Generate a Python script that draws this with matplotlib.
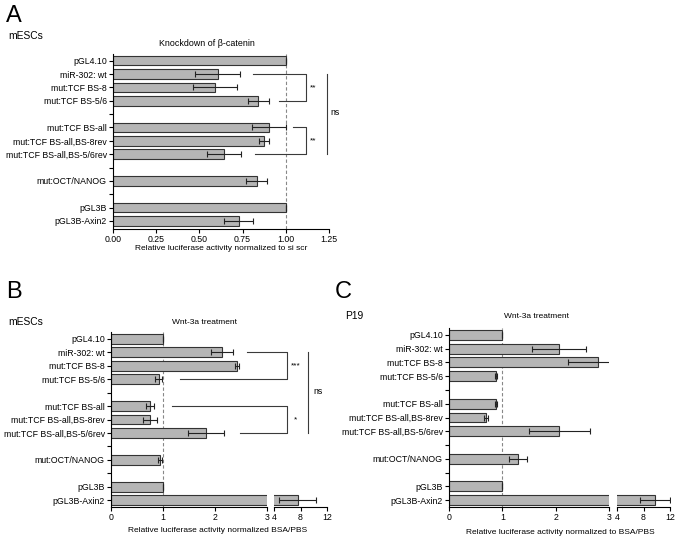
import numpy as np
import matplotlib
matplotlib.use("Agg")
import matplotlib.pyplot as plt

plt.rcParams['font.family'] = ['Liberation Sans', 'DejaVu Sans']

# =========================
# Datos
# =========================

labels = ["pGL4.10", "miR-302: wt", "mut:TCF BS-8", "mut:TCF BS-5/6",
          "mut:TCF BS-all", "mut:TCF BS-all,BS-8rev", "mut:TCF BS-all,BS-5/6rev",
          "mut:OCT/NANOG", "pGL3B", "pGL3B-Axin2"]
rows = [0, 1, 2, 3, 5, 6, 7, 9, 11, 12]

# A: knockdown of beta-catenin (mESCs)
a_vals = [1.0, 0.605, 0.592, 0.84, 0.903, 0.874, 0.643, 0.831, 1.0, 0.727]
a_err = [0, 0.128, 0.127, 0.06, 0.096, 0.027, 0.098, 0.063, 0, 0.084]

# B: Wnt-3a treatment (mESCs)
b_vals = [1.0, 2.13, 2.42, 0.915, 0.75, 0.75, 1.835, 0.95, 1.0, 7.6]
b_err = [0, 0.21, 0.045, 0.06, 0.08, 0.135, 0.345, 0.04, 0, 2.8]

# C: Wnt-3a treatment (P19)
c_vals = [1.0, 2.06, 2.80, 0.874, 0.886, 0.69, 2.07, 1.30, 1.0, 9.7]
c_err = [0, 0.50, 0.57, 0.02, 0.02, 0.04, 0.57, 0.17, 0, 2.3]

# =========================
# Figura
# =========================

W, H = 683, 542
fig = plt.figure(figsize=(W / 100, H / 100), dpi=100)

bar_fc = "#b5b5b5"
bar_ec = "#333333"
line_c = "#3a3a3a"
fs = 6.3


def px_axes(l, t, r, b):
    return fig.add_axes([l / W, 1 - b / H, (r - l) / W, (b - t) / H])


def px_text(x, y, s, **kw):
    fig.text(x / W, 1 - y / H, s, **kw)


def style_axes(ax, ymax):
    ax.set_ylim(ymax, -0.5)
    for side in ["top", "right"]:
        ax.spines[side].set_visible(False)
    for side in ["left", "bottom"]:
        ax.spines[side].set_linewidth(0.8)
    ax.set_yticks(range(13))
    ylab = [""] * 13
    for r, lab in zip(rows, labels):
        ylab[r] = lab
    ax.set_yticklabels(ylab)
    ax.tick_params(axis="both", labelsize=fs, length=3, width=0.8, pad=1.5)


def draw_bars(ax, vals, err):
    ax.barh(rows, vals, height=0.72, color=bar_fc, edgecolor=bar_ec, linewidth=0.8)
    ax.errorbar(vals, rows, xerr=err, fmt="none", ecolor="#222222",
                elinewidth=0.8, capsize=2.2, capthick=0.8)


def bracket(ax, r1, x1, r2, x2, xv, label, xt):
    ax.plot([x1, xv, xv, x2], [r1, r1, r2, r2], color=line_c, lw=0.8, clip_on=False)
    ax.text(xt, (r1 + r2) / 2, label, fontsize=6, ha="center", va="center")


def broken_panel(l, r_main, l2, r, t, b, vals, err):
    # segundo tramo del eje (4-12), dibujado debajo
    ax2 = px_axes(l2, t, r, b)
    draw_bars(ax2, vals, err)
    ax2.set_ylim(12.5, -0.5)
    ax2.set_xlim(4, 12)
    ax2.set_xticks([4, 8, 12])
    for side in ["top", "right", "left"]:
        ax2.spines[side].set_visible(False)
    ax2.spines["bottom"].set_linewidth(0.8)
    ax2.set_yticks([])
    ax2.patch.set_visible(False)
    ax2.tick_params(axis="x", labelsize=fs, length=3, width=0.8, pad=1.5)

    ax = px_axes(l, t, r_main, b)
    ax.patch.set_visible(False)
    style_axes(ax, 12.5)
    draw_bars(ax, vals, err)
    ax.set_xlim(0, 3)
    ax.set_xticks([0, 1, 2, 3])
    ax.axvline(1, color="#888888", lw=0.8, ls=(0, (3, 2)), zorder=0)
    return ax, ax2


# ---------- Panel A ----------
axA = px_axes(113, 54, 329, 229)
style_axes(axA, 12.6)
draw_bars(axA, a_vals, a_err)
axA.set_xlim(0, 1.25)
axA.set_xticks([0, 0.25, 0.5, 0.75, 1.0, 1.25])
axA.set_xticklabels(["0.00", "0.25", "0.50", "0.75", "1.00", "1.25"])
axA.axvline(1, color="#888888", lw=0.8, ls=(0, (3, 2)), zorder=0)

bracket(axA, 1, 0.81, 3, 0.961, 1.118, "**", 1.16)
bracket(axA, 5, 1.044, 7, 0.822, 1.118, "**", 1.16)
axA.plot([1.237, 1.237], [1, 7], color=line_c, lw=0.8, clip_on=False)
axA.text(1.258, 3.9, "ns", fontsize=fs, ha="left", va="center")

px_text(6, 16, "A", fontsize=17, va="center")
px_text(8, 36, "mESCs", fontsize=7.4, va="center")
px_text(207, 43, "Knockdown of β-catenin", fontsize=6.4, ha="center", va="center")
px_text(221, 248, "Relative luciferase activity normalized to si scr",
        fontsize=6.0, ha="center", va="center")

# ---------- Panel B ----------
axB, axB2 = broken_panel(111, 267, 274, 327, 332, 507, b_vals, b_err)

bracket(axB, 1, 2.61, 3, 1.33, 3.385, "***", 3.55)
bracket(axB, 5, 1.18, 7, 2.485, 3.385, "*", 3.55)
axB.plot([3.79, 3.79], [1, 7], color=line_c, lw=0.8, clip_on=False)
axB.text(3.9, 3.9, "ns", fontsize=fs, ha="left", va="center")

px_text(6, 292, "B", fontsize=17, va="center")
px_text(8, 322, "mESCs", fontsize=7.4, va="center")
px_text(205, 322, "Wnt-3a treatment", fontsize=6.0, ha="center", va="center")
px_text(218, 530, "Relative luciferase activity normalized BSA/PBS",
        fontsize=6.0, ha="center", va="center")

# ---------- Panel C ----------
axC, axC2 = broken_panel(449, 609, 617, 670, 328, 507, c_vals, c_err)

px_text(335, 292, "C", fontsize=17, va="center")
px_text(345, 316, "P19", fontsize=7.4, va="center")
px_text(537, 316, "Wnt-3a treatment", fontsize=6.0, ha="center", va="center")
px_text(560, 533, "Relative luciferase activity normalized to BSA/PBS",
        fontsize=6.0, ha="center", va="center")

fig.savefig("out.png", dpi=100)
